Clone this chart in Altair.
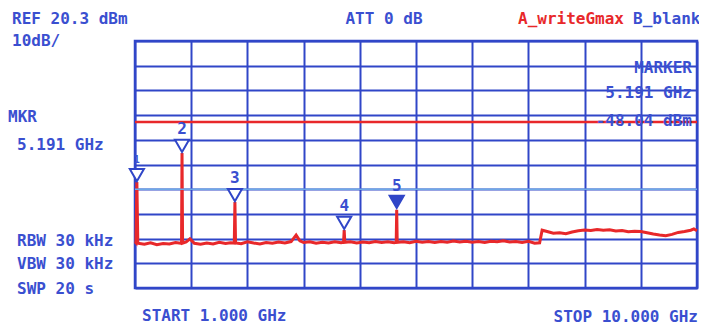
import altair as alt
import pandas as pd

# ---- data ----
freq_ghz = [1.00, 1.015, 1.03, 1.045, 1.15, 1.25, 1.35, 1.45, 1.55, 1.65, 1.73, 1.745, 1.753, 1.762,
            1.82, 1.88, 1.95, 2.05, 2.15, 2.25, 2.35, 2.45, 2.53, 2.59, 2.60, 2.61, 2.70, 2.80, 2.90,
            3.00, 3.10, 3.20, 3.30, 3.40, 3.50, 3.58, 3.64, 3.70, 3.80, 3.90, 4.00, 4.10, 4.20, 4.30,
            4.34, 4.35, 4.36, 4.45, 4.55, 4.65, 4.75, 4.85, 4.95, 5.05, 5.15, 5.183, 5.191, 5.199,
            5.30, 5.40, 5.50, 5.60, 5.70, 5.80, 5.90, 6.00, 6.10, 6.20, 6.30, 6.40, 6.50, 6.60, 6.70,
            6.80, 6.90, 7.00, 7.10, 7.20, 7.30, 7.40, 7.48, 7.52, 7.60, 7.70, 7.80, 7.90, 8.00, 8.10,
            8.20, 8.30, 8.40, 8.50, 8.60, 8.70, 8.80, 8.90, 9.00, 9.10, 9.20, 9.30, 9.40, 9.50, 9.60,
            9.70, 9.80, 9.90, 9.95, 10.00]
level_dbm = [-61.0, -61.4, -36.8, -61.6, -62.0, -61.4, -62.2, -61.7, -61.9, -61.3, -61.6, -61.5, -25.0, -61.5,
             -61.0, -59.8, -61.6, -62.0, -61.5, -61.9, -61.2, -61.7, -61.4, -61.5, -44.9, -61.5, -61.8, -61.0, -61.5,
             -61.9, -61.3, -61.6, -61.1, -61.5, -60.9, -58.3, -60.6, -61.3, -61.0, -61.6, -61.2, -61.5, -61.0, -61.4,
             -61.2, -56.2, -61.2, -61.0, -61.5, -61.1, -61.4, -60.9, -61.3, -61.0, -61.4, -61.2, -48.04, -61.2,
             -61.0, -61.4, -60.8, -61.2, -60.9, -61.3, -60.9, -61.2, -60.7, -61.1, -60.8, -61.2, -60.9, -61.3, -60.8,
             -61.0, -60.6, -61.1, -60.9, -61.3, -60.8, -61.6, -61.4, -56.3, -56.8, -57.5, -57.3, -57.7, -57.0, -56.5,
             -56.2, -56.4, -56.0, -56.3, -56.1, -56.6, -56.4, -56.9, -56.7, -56.8, -57.3, -57.8, -58.2, -58.5, -58.0,
             -57.2, -56.8, -56.3, -55.8, -56.5]

marker_ids = ["1", "2", "3", "4", "5"]
marker_freq = [1.03, 1.753, 2.60, 4.35, 5.191]
marker_level = [-36.8, -25.0, -44.9, -56.2, -48.04]
marker_active = [False, False, False, False, True]

x_grid = [1.0, 1.9, 2.8, 3.7, 4.6, 5.5, 6.4, 7.3, 8.2, 9.1, 10.0]
y_grid = [20.3, 10.3, 0.3, -9.7, -19.7, -29.7, -39.7, -49.7, -59.7, -69.7, -79.7]
display_line_dbm = [-12.5]
threshold_dbm = [-39.7]

BLUE = "#3046c8"
TEXT_BLUE = "#3a4fd0"
RED = "#e8282a"
FONT = "DejaVu Sans Mono"

trace = pd.DataFrame({"f": freq_ghz, "l": level_dbm})
markers = pd.DataFrame({"f": marker_freq, "l": marker_level, "id": marker_ids, "active": marker_active})

xs = alt.Scale(domain=[1, 10], nice=False, zero=False)
ys = alt.Scale(domain=[-79.7, 20.3], nice=False, zero=False)

xax = alt.Axis(values=x_grid, grid=True, labels=False, ticks=False, domain=False, title=None,
               gridColor=BLUE, gridWidth=2, gridOpacity=1)
yax = alt.Axis(values=y_grid, grid=True, labels=False, ticks=False, domain=False, title=None,
               gridColor=BLUE, gridWidth=2, gridOpacity=1)

X = lambda: alt.X("f:Q", scale=xs, axis=xax)
Y = lambda: alt.Y("l:Q", scale=ys, axis=yax)

trace_layer = alt.Chart(trace).mark_line(color=RED, strokeWidth=3, interpolate="linear").encode(
    x=X(), y=Y()
)

thr = alt.Chart(pd.DataFrame({"l": threshold_dbm})).mark_rule(color="#6fa8e6", strokeWidth=1.5).encode(
    y=Y()
)
dline = alt.Chart(pd.DataFrame({"l": display_line_dbm})).mark_rule(color=RED, strokeWidth=2.5).encode(
    y=Y()
)

tri_open = alt.Chart(markers).transform_filter("!datum.active").mark_point(
    shape="triangle-down", size=200, filled=True, fill="white", stroke=BLUE, strokeWidth=2,
    opacity=1, yOffset=-7
).encode(x=X(), y=Y())

tri_fill = alt.Chart(markers).transform_filter("datum.active").mark_point(
    shape="triangle-down", size=200, filled=True, fill=BLUE, stroke=BLUE, strokeWidth=2,
    opacity=1, yOffset=-8
).encode(x=X(), y=Y())

mk_labels = alt.Chart(markers).transform_filter("datum.id != '1'").mark_text(
    font=FONT, fontSize=16, fontWeight="bold", color=TEXT_BLUE, baseline="middle", align="center", yOffset=-24
).encode(x=X(), y=Y(), text="id:N")

mk_label1 = alt.Chart(markers).transform_filter("datum.id == '1'").mark_text(
    font=FONT, fontSize=10, fontWeight="bold", color=TEXT_BLUE, baseline="middle", align="center", yOffset=-22
).encode(x=X(), y=Y(), text="id:N")


def label(txt, x, y, align="left", color=TEXT_BLUE, size=16):
    return alt.Chart(pd.DataFrame({"t": [txt]})).mark_text(
        font=FONT, fontSize=size, fontWeight="bold", color=color, align=align, baseline="middle"
    ).encode(x=alt.value(x), y=alt.value(y), text="t:N")


texts = [
    label("REF 20.3 dBm", -123, -22),
    label("10dB/", -123, 0),
    label("ATT 0 dB", 249, -22, align="center"),
    label("A_writeGmax", 383, -22, color=RED),
    label("B_blank", 498, -22),
    label("MKR", -127, 76),
    label("5.191 GHz", -118, 104),
    label("MARKER", 557, 27, align="right"),
    label("5.191 GHz", 557, 52, align="right"),
    label("-48.04 dBm", 557, 80, align="right"),
    label("RBW 30 kHz", -118, 200),
    label("VBW 30 kHz", -118, 223),
    label("SWP 20 s", -118, 248),
    label("START 1.000 GHz", 7, 275),
    label("STOP 10.000 GHz", 563, 276, align="right"),
]

chart = alt.layer(
    trace_layer, thr, dline, tri_open, tri_fill, mk_labels, mk_label1, *texts
).properties(
    width=562, height=247,
    autosize=alt.AutoSizeParams(type="none"),
    padding={"left": 127, "top": 33, "right": 2, "bottom": 37},
    background="white",
).configure_view(stroke=BLUE, strokeWidth=2.5)

chart.save("out.html", embed_options={"renderer": "svg", "actions": False})
